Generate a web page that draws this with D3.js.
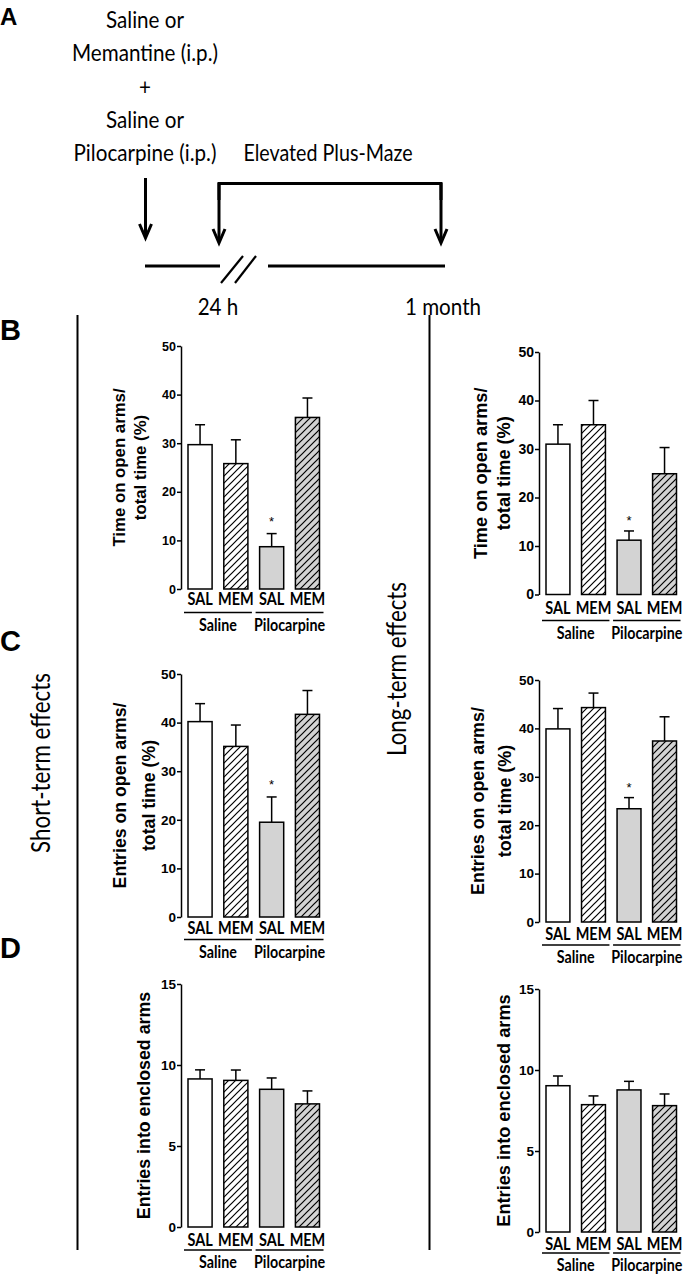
<!DOCTYPE html>
<html><head><meta charset="utf-8">
<script src="https://cdn.jsdelivr.net/npm/d3@7"></script>
<style>
html,body{margin:0;padding:0;background:#fff;}
svg{display:block;}
</style></head>
<body>
<script>
// ---------- DATA ----------
const treatments = ["SAL", "MEM", "SAL", "MEM"];
const groupOf = ["Saline", "Saline", "Pilocarpine", "Pilocarpine"];
const groupNames = ["Saline", "Pilocarpine"];
const ticksPct = [0, 10, 20, 30, 40, 50];
const ticksEntries = [0, 5, 10, 15];

const timeOpen24h = [29.7, 25.8, 8.7, 35.3];
const timeOpen24hSem = [4.1, 4.9, 2.7, 4.0];
const timeOpen1m = [31.0, 35.0, 11.2, 24.9];
const timeOpen1mSem = [4.0, 5.0, 1.9, 5.4];
const entriesOpen24h = [40.2, 35.1, 19.5, 41.7];
const entriesOpen24hSem = [3.7, 4.4, 5.2, 4.9];
const entriesOpen1m = [39.9, 44.3, 23.4, 37.4];
const entriesOpen1mSem = [4.2, 3.0, 2.3, 5.0];
const enclosed24h = [9.14, 9.05, 8.5, 7.6];
const enclosed24hSem = [0.56, 0.64, 0.7, 0.8];
const enclosed1m = [9.03, 7.86, 8.77, 7.8];
const enclosed1mSem = [0.6, 0.54, 0.53, 0.72];
const significant = [false, false, true, false];

// ---------- SETUP ----------
const W = 685, H = 1274;
const svg = d3.select("body").append("svg").attr("width", W).attr("height", H);
const defs = svg.append("defs");
function hatch(id, bg) {
  const p = defs.append("pattern").attr("id", id).attr("patternUnits", "userSpaceOnUse")
    .attr("width", 7).attr("height", 7);
  p.append("rect").attr("width", 7).attr("height", 7).attr("fill", bg);
  p.append("path").attr("d", "M-1,8 L8,-1 M-1,1 L1,-1 M6,8 L8,6")
    .attr("stroke", "#000").attr("stroke-width", 1.2);
}
hatch("hatchW", "#fff");
hatch("hatchG", "#d3d3d3");
const fills = ["#fff", "url(#hatchW)", "#d3d3d3", "url(#hatchG)"];

const CAL = "Lato, 'Open Sans', sans-serif";
const ARB = "'Liberation Sans', Arial, sans-serif";

function ctext(x, y, str, size, opts = {}) {
  const sx = opts.sx || 0.86;
  const g = svg.append("g").attr("transform", `translate(${x},${y}) rotate(${opts.rot || 0}) scale(${sx},1)`);
  g.append("text").attr("text-anchor", "middle").attr("dominant-baseline", "central")
    .attr("font-family", opts.family || CAL).attr("font-size", size)
    .attr("font-weight", opts.weight || "normal").attr("fill", "#000").text(str);
  return g;
}

// ---------- SCHEMATIC (panel A) ----------
svg.append("text").attr("x", 0).attr("y", 25).attr("font-family", ARB).attr("font-weight", "bold")
  .attr("font-size", 24).text("A");
const schemLines = ["Saline or", "Memantine (i.p.)", "+", "Saline or", "Pilocarpine (i.p.)"];
schemLines.forEach((t, i) => ctext(145, 19 + i * 33.3, t, 24));
ctext(328, 152, "Elevated Plus-Maze", 24, { sx: 0.82 });
ctext(218, 306, "24 h", 24);
ctext(443, 306, "1 month", 24);

const sk = svg.append("g").attr("stroke", "#000").attr("stroke-width", 3).attr("fill", "none")
  .attr("stroke-linecap", "butt");
function arrow(x, y1, y2) {
  sk.append("line").attr("x1", x).attr("y1", y1).attr("x2", x).attr("y2", y2 - 1);
  sk.append("polyline").attr("points", `${x - 6},${y2 - 14} ${x},${y2} ${x + 6},${y2 - 14}`)
    .attr("stroke-linejoin", "miter");
}
arrow(145.5, 178, 238);
sk.append("polyline").attr("points", "219,200 219,183.5 441,183.5 441,200");
arrow(219, 183, 243);
arrow(441, 183, 243);
sk.append("line").attr("x1", 145).attr("y1", 266).attr("x2", 220).attr("y2", 266);
sk.append("line").attr("x1", 268).attr("y1", 266).attr("x2", 445).attr("y2", 266);
sk.append("line").attr("x1", 221).attr("y1", 283).attr("x2", 243).attr("y2", 256).attr("stroke-width", 2.2);
sk.append("line").attr("x1", 235).attr("y1", 283).attr("x2", 256).attr("y2", 256).attr("stroke-width", 2.2);

// Section letters and dividers
[["B", 340], ["C", 651], ["D", 958]].forEach(([l, y]) =>
  svg.append("text").attr("x", 0).attr("y", y).attr("font-family", ARB).attr("font-weight", "bold")
    .attr("font-size", 29).text(l));
svg.append("line").attr("x1", 77.5).attr("x2", 77.5).attr("y1", 315).attr("y2", 1250).attr("stroke", "#000").attr("stroke-width", 2);
svg.append("line").attr("x1", 429.5).attr("x2", 429.5).attr("y1", 315).attr("y2", 1250).attr("stroke", "#000").attr("stroke-width", 2);
ctext(40, 763, "Short-term effects", 26, { rot: -90 });
ctext(396, 669, "Long-term effects", 26, { rot: -90 });

// ---------- BAR PANELS ----------
function panel(cfg, means, sems, ticks) {
  const idx = d3.range(means.length);
  const x = d3.scaleBand().domain(idx).range([cfg.b0, cfg.b1]).paddingInner(0.327).paddingOuter(0);
  const y = d3.scaleLinear().domain([0, d3.max(ticks)]).range([cfg.y0, cfg.yTop]);
  const g = svg.append("g");

  // y axis
  const ax = g.append("g").attr("transform", `translate(${cfg.ax},0)`)
    .call(d3.axisLeft(y).tickValues(ticks).tickSize(4).tickPadding(1).tickSizeOuter(0));
  ax.select(".domain").attr("stroke-width", 1.5);
  ax.selectAll(".tick line").attr("stroke-width", 1.5);
  ax.selectAll(".tick text").attr("font-family", ARB).attr("font-weight", "bold")
    .attr("font-size", cfg.tick).attr("fill", "#000");

  // error bars (upper only)
  const eb = g.append("g").attr("stroke", "#000").attr("stroke-width", 1.5);
  idx.forEach(i => {
    const cx = x(i) + x.bandwidth() / 2;
    eb.append("line").attr("x1", cx).attr("x2", cx).attr("y1", y(means[i])).attr("y2", y(means[i] + sems[i]));
    eb.append("line").attr("x1", cx - 5).attr("x2", cx + 5).attr("y1", y(means[i] + sems[i])).attr("y2", y(means[i] + sems[i]));
  });
  // bars
  g.append("g").selectAll("rect").data(idx).join("rect")
    .attr("x", i => x(i)).attr("width", x.bandwidth())
    .attr("y", i => y(means[i])).attr("height", i => y(0) - y(means[i]))
    .attr("fill", i => fills[i]).attr("stroke", "#000").attr("stroke-width", 1.5);

  // significance
  if (cfg.stars) idx.filter(i => significant[i]).forEach(i => {
    g.append("text").attr("x", x(i) + x.bandwidth() / 2).attr("y", y(means[i] + sems[i]) - cfg.starGap)
      .attr("text-anchor", "middle").attr("font-family", ARB).attr("font-size", 13).text("*");
  });

  // category labels
  idx.forEach(i => ctext(x(i) + x.bandwidth() / 2, cfg.catY, treatments[i], 17, { weight: "bold", sx: 0.85 }));
  // group underline + label
  groupNames.forEach((gn, k) => {
    const members = idx.filter(i => groupOf[i] === gn);
    const a = x(members[0]) - 4, b = x(members[members.length - 1]) + x.bandwidth() + 4;
    g.append("line").attr("x1", a).attr("x2", b).attr("y1", cfg.lineY).attr("y2", cfg.lineY)
      .attr("stroke", "#000").attr("stroke-width", 1.3);
    ctext((a + b) / 2, cfg.grpY, gn, 17, { weight: "bold", sx: 0.84 });
  });

  // y title
  cfg.title.forEach((t, k) => {
    const gg = svg.append("g").attr("transform", `translate(${cfg.titleX[k]},${(cfg.y0 + cfg.yTop) / 2}) rotate(-90)`);
    gg.append("text").attr("text-anchor", "middle").attr("dominant-baseline", "central")
      .attr("font-family", ARB).attr("font-weight", "bold").attr("font-size", cfg.titleSize).text(t);
  });
}

const L = { ax: 181, b0: 188, b1: 319.5 };
const R = { ax: 539, b0: 546, b1: 676.5 };

panel(Object.assign({}, L, { y0: 589, yTop: 346, tick: 12.5, catY: 598, lineY: 612.5, grpY: 625,
  title: ["Time on open arms/", "total time (%)"], titleX: [119.5, 140], titleSize: 16.8, stars: true, starGap: 8 }),
  timeOpen24h, timeOpen24hSem, ticksPct);
panel(Object.assign({}, R, { y0: 594.5, yTop: 352, tick: 14, catY: 607, lineY: 620.5, grpY: 633,
  title: ["Time on open arms/", "total time (%)"], titleX: [481, 504], titleSize: 18.2, stars: true, starGap: 6 }),
  timeOpen1m, timeOpen1mSem, ticksPct);
panel(Object.assign({}, L, { y0: 917, yTop: 674, tick: 13.5, catY: 927, lineY: 939.5, grpY: 952,
  title: ["Entries on open arms/", "total time (%)"], titleX: [120, 149], titleSize: 17.7, stars: true, starGap: 8 }),
  entriesOpen24h, entriesOpen24hSem, ticksPct);
panel(Object.assign({}, R, { y0: 922, yTop: 680, tick: 13.5, catY: 933, lineY: 945, grpY: 957,
  title: ["Entries on open arms/", "total time (%)"], titleX: [478, 505], titleSize: 17.9, stars: true, starGap: 6 }),
  entriesOpen1m, entriesOpen1mSem, ticksPct);
panel(Object.assign({}, L, { y0: 1227, yTop: 984, tick: 13.5, catY: 1239, lineY: 1250, grpY: 1262,
  title: ["Entries into enclosed arms"], titleX: [144], titleSize: 17.8, stars: false }),
  enclosed24h, enclosed24hSem, ticksEntries);
panel(Object.assign({}, R, { y0: 1232, yTop: 989, tick: 13.5, catY: 1243, lineY: 1253, grpY: 1265,
  title: ["Entries into enclosed arms"], titleX: [504], titleSize: 18.2, stars: false }),
  enclosed1m, enclosed1mSem, ticksEntries);
</script>
</body></html>
